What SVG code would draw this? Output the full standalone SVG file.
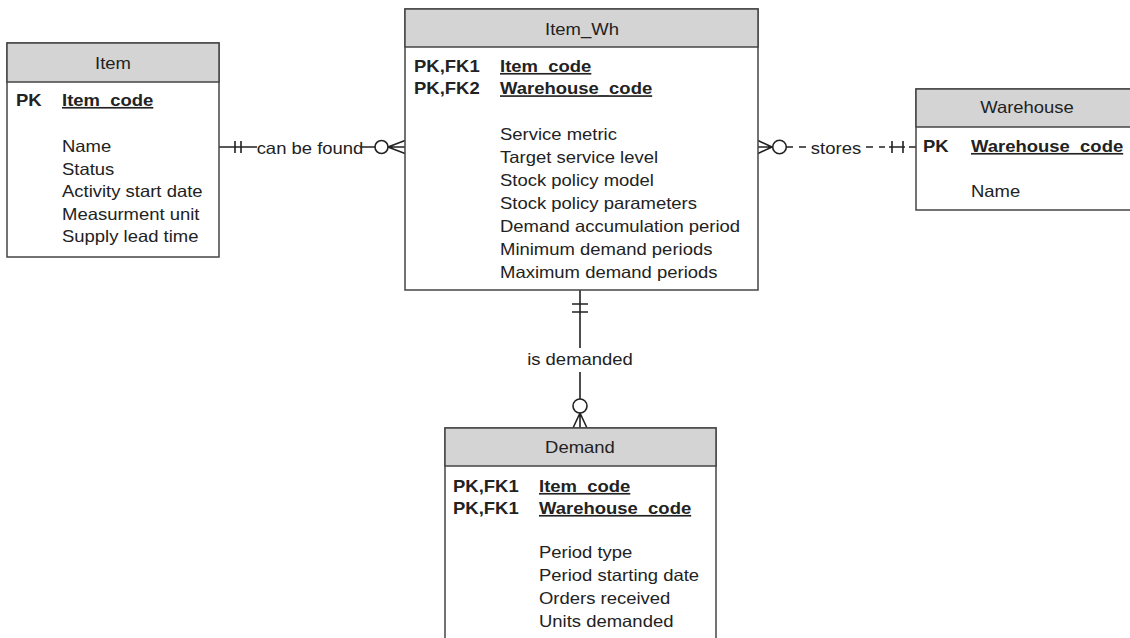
<svg xmlns="http://www.w3.org/2000/svg" width="1130" height="638" viewBox="0 0 1130 638">
<style>
.box{fill:#ffffff;stroke:#454545;stroke-width:1.5}
.hdr{fill:#d4d4d4;stroke:#454545;stroke-width:1.5}
.t{font-family:"Liberation Sans",Arial,sans-serif;font-size:16.5px;fill:#222222}
.h{text-anchor:middle}
.b{font-weight:bold}
.u{text-decoration:underline}
.ln{fill:none;stroke:#222222;stroke-width:1.6}
.ci{fill:#ffffff;stroke:#222222;stroke-width:1.6}
</style>
<rect width="1130" height="638" fill="#ffffff"/>

<g id="connectors">
  <g id="item-itemwh">
    <path class="ln" d="M219,147 L257,147 M362,147 L375,147 M235,141 L235,153 M241,141 L241,153 M388,147 L405,140.5 M388,147 L405,153.5 M388,147 L405,147"/>
    <circle class="ci" cx="381.5" cy="147" r="6.5"/>
    <text class="t h" transform="matrix(1.12 0 0 1 310 153.5)">can be found</text>
  </g>
  <g id="itemwh-warehouse">
    <path class="ln" d="M772,147 L758,140.5 M772,147 L758,153.5 M772,147 L758,147 M786,147 L793,147 M799,147 L806,147 M866,147 L873,147 M879,147 L885,147 M889,147 L905,147 M892,141 L892,153 M903,141 L903,153 M909,147 L916,147"/>
    <circle class="ci" cx="779.5" cy="147" r="6.8"/>
    <text class="t h" transform="matrix(1.12 0 0 1 836 154)">stores</text>
  </g>
  <g id="itemwh-demand">
    <path class="ln" d="M580,290 L580,348 M572,304 L588,304 M572,312 L588,312 M580,372 L580,399 M580,413 L573,428 M580,413 L587,428 M580,413 L580,428"/>
    <circle class="ci" cx="580" cy="406" r="7"/>
    <text class="t h" transform="matrix(1.12 0 0 1 580 365)">is demanded</text>
  </g>
</g>

<g id="item">
  <rect class="box" x="7" y="43" width="212" height="214"/>
  <rect class="hdr" x="7" y="43" width="212" height="39"/>
  <text class="t h" transform="matrix(1.12 0 0 1 113 68.5)">Item</text>
  <text class="t b" transform="matrix(1.12 0 0 1 16 106)">PK</text>
  <text class="t b u" transform="matrix(1.12 0 0 1 62 106)">Item_code</text>
  <text class="t" transform="matrix(1.12 0 0 1 62 152)">Name</text>
  <text class="t" transform="matrix(1.12 0 0 1 62 174.5)">Status</text>
  <text class="t" transform="matrix(1.12 0 0 1 62 197)">Activity start date</text>
  <text class="t" transform="matrix(1.12 0 0 1 62 219.5)">Measurment unit</text>
  <text class="t" transform="matrix(1.12 0 0 1 62 242)">Supply lead time</text>
</g>

<g id="item_wh">
  <rect class="box" x="405" y="9" width="353" height="281"/>
  <rect class="hdr" x="405" y="9" width="353" height="38"/>
  <text class="t h" transform="matrix(1.12 0 0 1 582 35)">Item_Wh</text>
  <text class="t b" transform="matrix(1.12 0 0 1 414 72)">PK,FK1</text>
  <text class="t b u" transform="matrix(1.12 0 0 1 500 72)">Item_code</text>
  <text class="t b" transform="matrix(1.12 0 0 1 414 94.3)">PK,FK2</text>
  <text class="t b u" transform="matrix(1.12 0 0 1 500 94.3)">Warehouse_code</text>
  <text class="t" transform="matrix(1.12 0 0 1 500 140)">Service metric</text>
  <text class="t" transform="matrix(1.12 0 0 1 500 163)">Target service level</text>
  <text class="t" transform="matrix(1.12 0 0 1 500 186)">Stock policy model</text>
  <text class="t" transform="matrix(1.12 0 0 1 500 209)">Stock policy parameters</text>
  <text class="t" transform="matrix(1.12 0 0 1 500 232)">Demand accumulation period</text>
  <text class="t" transform="matrix(1.12 0 0 1 500 255)">Minimum demand periods</text>
  <text class="t" transform="matrix(1.12 0 0 1 500 278)">Maximum demand periods</text>
</g>

<g id="warehouse">
  <rect class="box" x="916" y="89" width="222" height="121"/>
  <rect class="hdr" x="916" y="89" width="222" height="38"/>
  <text class="t h" transform="matrix(1.12 0 0 1 1027 113)">Warehouse</text>
  <text class="t b" transform="matrix(1.12 0 0 1 923 152)">PK</text>
  <text class="t b u" transform="matrix(1.12 0 0 1 971 152)">Warehouse_code</text>
  <text class="t" transform="matrix(1.12 0 0 1 971 197)">Name</text>
</g>

<g id="demand">
  <rect class="box" x="445" y="428" width="271" height="220"/>
  <rect class="hdr" x="445" y="428" width="271" height="38"/>
  <text class="t h" transform="matrix(1.12 0 0 1 580 453)">Demand</text>
  <text class="t b" transform="matrix(1.12 0 0 1 453 492)">PK,FK1</text>
  <text class="t b u" transform="matrix(1.12 0 0 1 539 492)">Item_code</text>
  <text class="t b" transform="matrix(1.12 0 0 1 453 514)">PK,FK1</text>
  <text class="t b u" transform="matrix(1.12 0 0 1 539 514)">Warehouse_code</text>
  <text class="t" transform="matrix(1.12 0 0 1 539 558)">Period type</text>
  <text class="t" transform="matrix(1.12 0 0 1 539 581)">Period starting date</text>
  <text class="t" transform="matrix(1.12 0 0 1 539 604)">Orders received</text>
  <text class="t" transform="matrix(1.12 0 0 1 539 627)">Units demanded</text>
</g>
</svg>
